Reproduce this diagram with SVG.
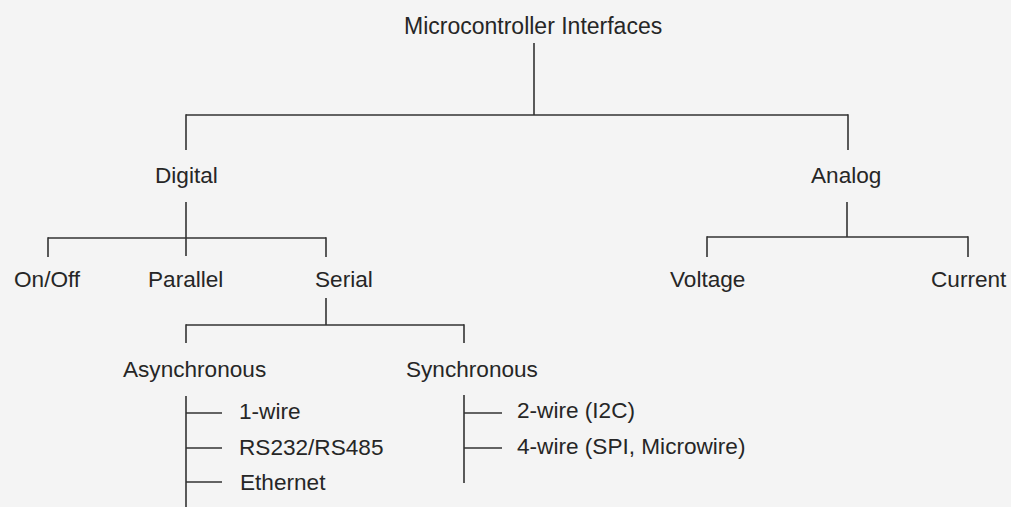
<svg xmlns="http://www.w3.org/2000/svg" width="1011" height="507" viewBox="0 0 1011 507">
<style>
text{font-family:"Liberation Sans",Arial,sans-serif;font-size:22.6px;fill:#262626}
.c line{stroke:#333;stroke-width:1.6;fill:none}
</style>
<rect width="1011" height="507" fill="#f4f4f4"/>
<g class="c" id="connectors">
<line x1="534" y1="43" x2="534" y2="115"/>
<line x1="186" y1="115" x2="848" y2="115"/>
<line x1="186" y1="114.2" x2="186" y2="150"/>
<line x1="848" y1="114.2" x2="848" y2="150"/>
<line x1="186" y1="202" x2="186" y2="256"/>
<line x1="48" y1="238" x2="326" y2="238"/>
<line x1="48" y1="237.2" x2="48" y2="257"/>
<line x1="326" y1="237.2" x2="326" y2="257"/>
<line x1="847" y1="202" x2="847" y2="237"/>
<line x1="707" y1="237" x2="968" y2="237"/>
<line x1="707" y1="236.2" x2="707" y2="257"/>
<line x1="968" y1="236.2" x2="968" y2="257"/>
<line x1="326" y1="298" x2="326" y2="325"/>
<line x1="186" y1="325" x2="464" y2="325"/>
<line x1="186" y1="324.2" x2="186" y2="343"/>
<line x1="464" y1="324.2" x2="464" y2="343"/>
<line x1="186" y1="396" x2="186" y2="507"/>
<line x1="186" y1="413" x2="222" y2="413"/>
<line x1="186" y1="448" x2="222" y2="448"/>
<line x1="186" y1="482" x2="222" y2="482"/>
<line x1="464" y1="395" x2="464" y2="483"/>
<line x1="464" y1="413" x2="502" y2="413"/>
<line x1="464" y1="448" x2="502" y2="448"/>
</g>
<g id="n-root"><text x="404" y="34" style="font-size:23px">Microcontroller Interfaces</text></g>
<g id="n-digital"><text x="155" y="183">Digital</text></g>
<g id="n-analog"><text x="811" y="183">Analog</text></g>
<g id="n-onoff"><text x="14" y="287">On/Off</text></g>
<g id="n-parallel"><text x="148" y="287">Parallel</text></g>
<g id="n-serial"><text x="315" y="287">Serial</text></g>
<g id="n-voltage"><text x="670" y="287">Voltage</text></g>
<g id="n-current"><text x="931" y="287">Current</text></g>
<g id="n-async"><text x="123" y="377">Asynchronous</text></g>
<g id="n-sync"><text x="406" y="377">Synchronous</text></g>
<g id="n-1wire"><text x="239" y="419">1-wire</text></g>
<g id="n-rs232"><text x="239" y="455">RS232/RS485</text></g>
<g id="n-ethernet"><text x="240" y="490">Ethernet</text></g>
<g id="n-2wire"><text x="517" y="418">2-wire (I2C)</text></g>
<g id="n-4wire"><text x="517" y="454">4-wire (SPI, Microwire)</text></g>
</svg>
